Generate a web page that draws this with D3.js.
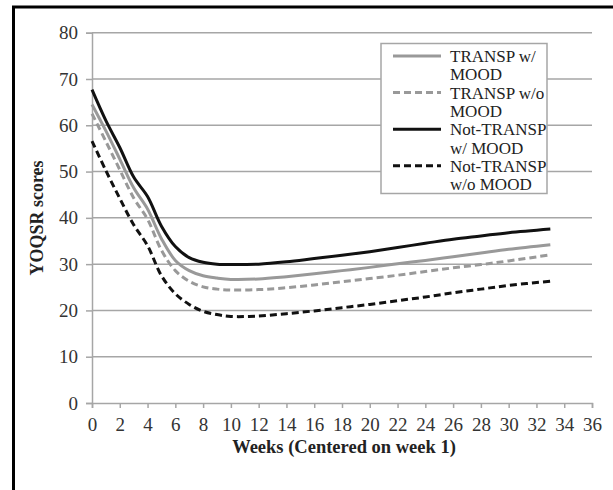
<!DOCTYPE html>
<html>
<head>
<meta charset="utf-8">
<script src="https://cdn.jsdelivr.net/npm/d3@7"></script>
<style>
  body { margin: 0; background: #fff; }
  svg { display: block; }
</style>
</head>
<body>
<svg id="chart" width="613" height="490"></svg>
<script>
// weeks (centered on week 1)
var weeks = [0, 1, 2, 3, 4, 5, 6, 7, 8, 9, 10, 12, 14, 16, 18, 20, 22, 24, 26, 28, 30, 33];

var transpMood    = [64.5, 58.8, 52.7, 46.5, 41.9, 35.5, 30.8, 28.6, 27.5, 27.0, 26.7, 26.8, 27.3, 27.9, 28.6, 29.3, 30.1, 30.8, 31.6, 32.4, 33.2, 34.2];
var transpNoMood  = [62.5, 56.5, 50.4, 44.3, 39.7, 33.0, 28.6, 26.3, 25.1, 24.6, 24.4, 24.5, 24.9, 25.5, 26.2, 26.9, 27.6, 28.4, 29.2, 29.9, 30.7, 32.0];
var notTranspMood = [67.7, 61.0, 55.2, 48.8, 44.6, 38.2, 33.8, 31.4, 30.4, 30.0, 29.9, 30.0, 30.5, 31.2, 31.9, 32.7, 33.6, 34.5, 35.4, 36.1, 36.8, 37.6];
var notTranspNoMood = [56.6, 50.2, 44.2, 38.5, 34.0, 27.5, 23.6, 21.3, 19.8, 19.1, 18.7, 18.8, 19.3, 19.9, 20.6, 21.3, 22.1, 22.9, 23.8, 24.6, 25.4, 26.3];

var seriesNames = [["TRANSP w/", "MOOD"], ["TRANSP w/o", "MOOD"], ["Not-TRANSP", "w/ MOOD"], ["Not-TRANSP", "w/o MOOD"]];
var xTicks = d3.range(0, 37, 2);
var yTicks = d3.range(0, 81, 10);

var series = [
    { name: seriesNames[0], values: transpMood,      color: "#999999", dash: null },
    { name: seriesNames[1], values: transpNoMood,    color: "#999999", dash: "7,4" },
    { name: seriesNames[2], values: notTranspMood,   color: "#111111", dash: null },
    { name: seriesNames[3], values: notTranspNoMood, color: "#111111", dash: "7,4" }
];

var svg = d3.select("#chart");
var margin = { top: 32.7, left: 92 },
    width = 500,
    height = 370.3;

var gridColor = "#a6a6a6";
var serif = "'Liberation Serif', 'Times New Roman', serif";

// frame (left and top border only)
svg.append("path")
    .attr("d", "M13.5,490 L13.5,7 L613,7")
    .attr("fill", "none")
    .attr("stroke", "#000")
    .attr("stroke-width", 3);

var g = svg.append("g").attr("transform", "translate(" + margin.left + "," + margin.top + ")");

var x = d3.scaleLinear().domain([0, 36]).range([0, width]);
var y = d3.scaleLinear().domain([0, 80]).range([height, 0]);

// gridlines
g.append("g").selectAll("line")
    .data(yTicks.filter(function (d) { return d > 0; }))
  .enter().append("line")
    .attr("x1", 0).attr("x2", width)
    .attr("y1", function (d) { return y(d); })
    .attr("y2", function (d) { return y(d); })
    .attr("stroke", gridColor)
    .attr("stroke-width", 1.5);

function styleAxis(a) {
    a.attr("font-family", null).attr("font-size", null);
    a.select(".domain").attr("stroke", gridColor).attr("stroke-width", 1.5);
    a.selectAll(".tick line").attr("stroke", gridColor).attr("stroke-width", 1.5);
    a.selectAll(".tick text").attr("fill", "#333").style("font-family", serif).style("font-size", "19px");
}

// y axis
var yAxis = d3.axisLeft(y).tickValues(yTicks).tickSize(6).tickPadding(8);
g.append("g").call(yAxis).call(styleAxis);

// x axis
var xAxis = d3.axisBottom(x).tickValues(xTicks).tickSize(5).tickPadding(10);
g.append("g").attr("transform", "translate(0," + height + ")").call(xAxis).call(styleAxis);

// lines
var line = d3.line()
    .x(function (d, i) { return x(weeks[i]); })
    .y(function (d) { return y(d); })
    .curve(d3.curveCatmullRom.alpha(0.5));

series.forEach(function (s) {
    g.append("path")
        .datum(s.values)
        .attr("d", line)
        .attr("fill", "none")
        .attr("stroke", s.color)
        .attr("stroke-width", 3)
        .attr("stroke-dasharray", s.dash);
});

// axis titles
svg.append("text")
    .attr("transform", "translate(43,218) rotate(-90)")
    .attr("text-anchor", "middle")
    .style("font-family", serif)
    .style("font-weight", "bold")
    .style("font-size", "18px")
    .attr("fill", "#222")
    .text("YOQSR scores");

svg.append("text")
    .attr("x", 344).attr("y", 453)
    .attr("text-anchor", "middle")
    .style("font-family", serif)
    .style("font-weight", "bold")
    .style("font-size", "18.5px")
    .attr("fill", "#222")
    .text("Weeks (Centered on week 1)");

// legend
var legend = svg.append("g");
legend.append("rect")
    .attr("x", 381).attr("y", 43.5).attr("width", 166).attr("height", 150)
    .attr("fill", "#fff").attr("stroke", gridColor).attr("stroke-width", 1.5);

series.forEach(function (s, i) {
    var ly = 56 + i * 36.6;
    legend.append("line")
        .attr("x1", 393).attr("x2", 441)
        .attr("y1", ly).attr("y2", ly)
        .attr("stroke", s.color).attr("stroke-width", 3)
        .attr("stroke-dasharray", s.dash);
    s.name.forEach(function (t, j) {
        legend.append("text")
            .attr("x", 450).attr("y", ly + 6 + j * 18.3)
            .style("font-family", serif)
            .style("font-size", "17px")
            .attr("fill", "#222")
            .text(t);
    });
});
</script>
</body>
</html>
